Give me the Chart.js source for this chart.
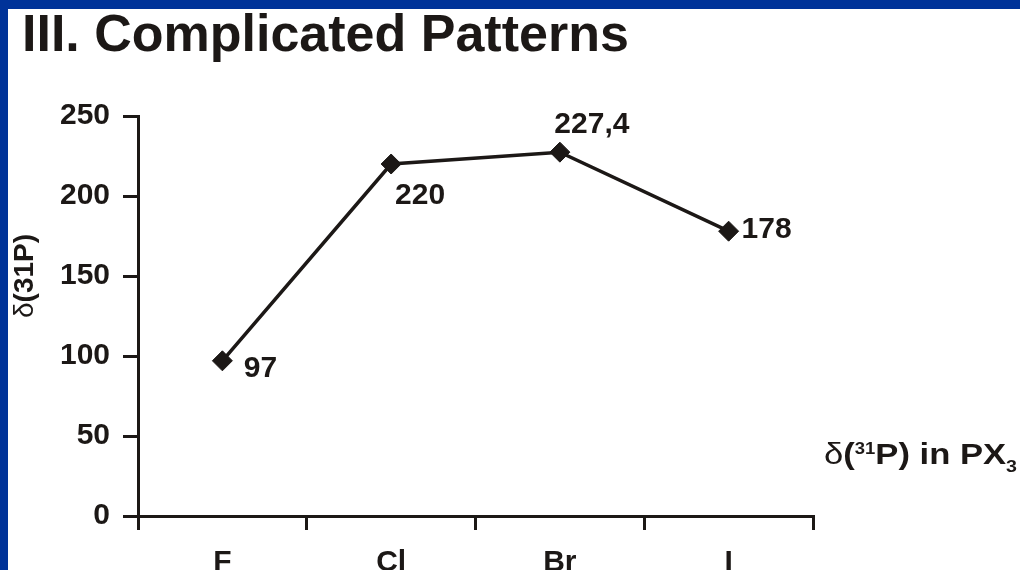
<!DOCTYPE html>
<html>
<head>
<meta charset="utf-8">
<script src="https://cdn.jsdelivr.net/npm/chart.js@4"></script>
<style>
html, body { margin: 0; padding: 0; background: #fff; overflow: hidden; }
#wrap { position: relative; width: 1020px; height: 570px; }
#pxChart { position: absolute; left: 0; top: 0; }
#topbar { position: absolute; left: 0; top: 0; width: 1020px; height: 9px; background: #003399; }
#leftbar { position: absolute; left: 0; top: 0; width: 8px; height: 570px; background: #003399; }
</style>
</head>
<body>
<div id="wrap">
    <canvas id="pxChart" width="1020" height="570"></canvas>
    <div id="topbar"></div>
    <div id="leftbar"></div>
</div>
<script>
// data
var categories = ['F', 'Cl', 'Br', 'I'];
var shifts = [97, 220, 227.4, 178];
var yTicks = [0, 50, 100, 150, 200, 250];

var ink = '#1c1816';
var fontFamily = '"Liberation Sans", Arial, sans-serif';
// where each value label sits relative to its point
var labelOffsets = [[38, 8], [29, 32], [32, -27], [38, -1]];

function fmt(v) {
    return String(v).replace('.', ',');
}

var slideText = {
    id: 'slideText',
    afterDraw: function (chart) {
        var ctx = chart.ctx;
        ctx.save();
        ctx.fillStyle = ink;

        // slide title
        ctx.font = 'bold 52px ' + fontFamily;
        ctx.textAlign = 'left';
        ctx.textBaseline = 'alphabetic';
        ctx.fillText('III. Complicated Patterns', 22, 51);

        // y axis title, rotated
        ctx.save();
        ctx.translate(33, 276);
        ctx.rotate(-Math.PI / 2);
        var parts = [['δ', 'normal'], ['(31P)', 'bold']];
        var total = 0;
        parts.forEach(function (p) {
            ctx.font = p[1] + ' 28px ' + fontFamily;
            total += ctx.measureText(p[0]).width;
        });
        var x = -total / 2;
        parts.forEach(function (p) {
            ctx.font = p[1] + ' 28px ' + fontFamily;
            ctx.fillText(p[0], x, 0);
            x += ctx.measureText(p[0]).width;
        });
        ctx.restore();

        // note at the right: δ(31P) in PX3
        var note = [
            ['δ', 'normal 30px', 0],
            ['(', 'bold 30px', 0],
            ['31', 'bold 16px', -10],
            ['P) in PX', 'bold 30px', 0],
            ['3', 'bold 17px', 8]
        ];
        var w = 0;
        note.forEach(function (p) {
            ctx.font = p[1] + ' ' + fontFamily;
            w += ctx.measureText(p[0]).width;
        });
        ctx.save();
        ctx.translate(824, 464);
        ctx.scale(193 / w, 1);
        var nx = 0;
        note.forEach(function (p) {
            ctx.font = p[1] + ' ' + fontFamily;
            ctx.fillText(p[0], nx, p[2]);
            nx += ctx.measureText(p[0]).width;
        });
        ctx.restore();

        // value labels next to the points
        var meta = chart.getDatasetMeta(0);
        ctx.font = 'bold 30px ' + fontFamily;
        ctx.textAlign = 'center';
        ctx.textBaseline = 'middle';
        meta.data.forEach(function (pt, i) {
            ctx.fillText(fmt(shifts[i]), pt.x + labelOffsets[i][0], pt.y + labelOffsets[i][1]);
        });
        ctx.restore();
    }
};

var ctx = document.getElementById('pxChart').getContext('2d');
var pxChart = new Chart(ctx, {
    type: 'line',
    data: {
        labels: categories,
        datasets: [{
            label: 'δ(31P) in PX3',
            data: shifts,
            borderColor: ink,
            borderWidth: 3.5,
            backgroundColor: ink,
            pointStyle: 'rectRot',
            pointRadius: 10,
            pointBackgroundColor: ink,
            pointBorderColor: ink,
            pointBorderWidth: 1,
            tension: 0,
            clip: false
        }]
    },
    options: {
        responsive: false,
        animation: false,
        layout: {
            padding: { left: 0, right: 207, top: 116, bottom: 0 }
        },
        plugins: {
            legend: { display: false },
            tooltip: { enabled: false }
        },
        scales: {
            x: {
                offset: true,
                afterFit: function (s) { s.height = 54; },
                border: { color: ink, width: 3 },
                grid: {
                    offset: true,
                    drawOnChartArea: false,
                    drawTicks: true,
                    tickLength: 14,
                    color: ink,
                    lineWidth: 3
                },
                ticks: {
                    color: ink,
                    padding: 15,
                    maxRotation: 0,
                    font: { family: fontFamily, size: 30, weight: 'bold' }
                }
            },
            y: {
                min: 0,
                max: 250,
                afterBuildTicks: function (s) {
                    s.ticks = yTicks.map(function (v) { return { value: v }; });
                },
                afterFit: function (s) { s.width = 138; },
                border: { color: ink, width: 3 },
                grid: {
                    drawOnChartArea: false,
                    drawTicks: true,
                    tickLength: 15,
                    color: ink,
                    lineWidth: 3
                },
                ticks: {
                    color: ink,
                    padding: 13,
                    font: { family: fontFamily, size: 30, weight: 'bold' }
                }
            }
        }
    },
    plugins: [slideText]
});
</script>
</body>
</html>
